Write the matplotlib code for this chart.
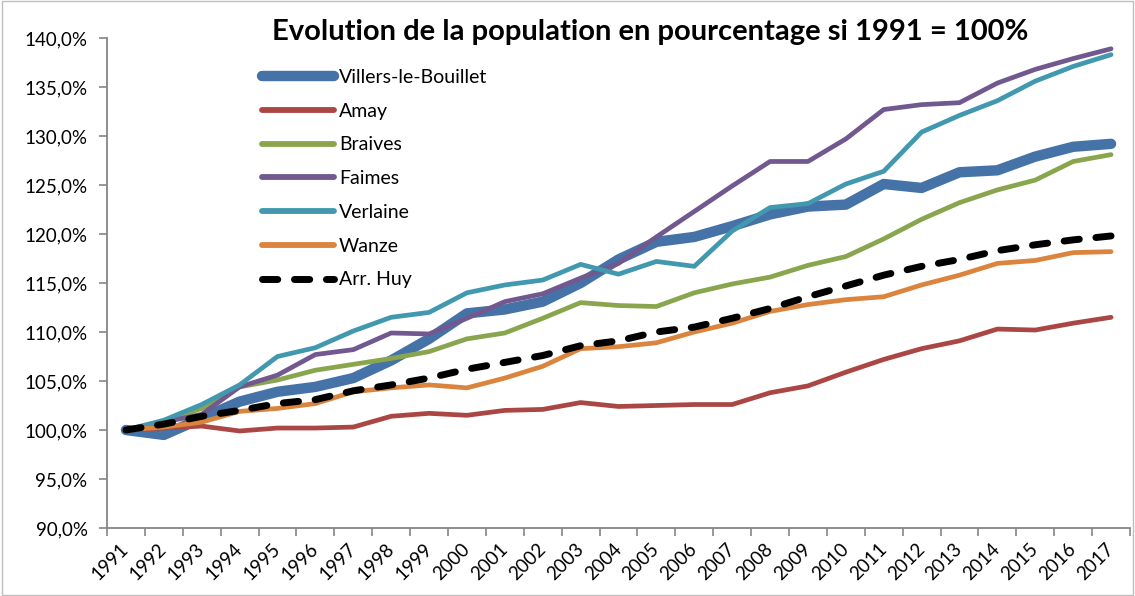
import matplotlib
matplotlib.use("Agg")
import matplotlib.pyplot as plt
from matplotlib.patches import Rectangle
from matplotlib.ticker import FixedLocator, FuncFormatter

# Population en % (base 1991 = 100)
years = list(range(1991, 2018))

villers = [100, 99.5, 101.2, 102.9, 103.9, 104.4, 105.3, 107.1, 109.3, 111.9, 112.3, 113.1, 115.0, 117.4,
           119.2, 119.7, 120.8, 122.0, 122.8, 123.0, 125.1, 124.7, 126.3, 126.5, 127.9, 128.9, 129.2]
amay = [100, 100.2, 100.4, 99.9, 100.2, 100.2, 100.3, 101.4, 101.7, 101.5, 102.0, 102.1, 102.8, 102.4,
        102.5, 102.6, 102.6, 103.8, 104.5, 105.9, 107.2, 108.3, 109.1, 110.3, 110.2, 110.9, 111.5]
braives = [100, 100.9, 102.2, 104.4, 105.1, 106.1, 106.7, 107.3, 108.0, 109.3, 109.9, 111.4, 113.0, 112.7,
           112.6, 114.0, 114.9, 115.6, 116.8, 117.7, 119.5, 121.5, 123.2, 124.5, 125.5, 127.4, 128.1]
faimes = [100, 100.8, 101.6, 104.4, 105.6, 107.7, 108.2, 109.9, 109.8, 111.4, 113.1, 113.9, 115.5, 117.0,
          119.7, 122.3, 124.9, 127.4, 127.4, 129.7, 132.7, 133.2, 133.4, 135.4, 136.8, 137.9, 138.9]
verlaine = [100, 101.0, 102.6, 104.6, 107.5, 108.4, 110.1, 111.5, 112.0, 114.0, 114.8, 115.3, 116.9, 115.9,
            117.2, 116.7, 120.3, 122.7, 123.1, 125.1, 126.4, 130.4, 132.1, 133.6, 135.6, 137.1, 138.3]
wanze = [100, 100.3, 100.8, 101.9, 102.2, 102.7, 103.9, 104.3, 104.6, 104.3, 105.3, 106.5, 108.3, 108.5,
         108.9, 110.0, 110.9, 112.1, 112.8, 113.3, 113.6, 114.8, 115.8, 117.0, 117.3, 118.1, 118.2]
arr_huy = [100, 100.6, 101.4, 102.0, 102.7, 103.1, 104.0, 104.6, 105.3, 106.2, 106.9, 107.6, 108.6, 109.1,
           110.0, 110.5, 111.4, 112.4, 113.6, 114.7, 115.8, 116.7, 117.4, 118.3, 118.9, 119.4, 119.8]

plt.rcParams['font.family'] = ['Lato', 'DejaVu Sans']

fig = plt.figure(figsize=(11.35, 5.96), dpi=100)
ax = fig.add_axes([107 / 1135, 1 - 528 / 596, (1130 - 107) / 1135, (528 - 38) / 596])

x = list(range(len(years)))
ax.plot(x, villers, color='#4572A7', lw=7.5, solid_capstyle='round', solid_joinstyle='round',
        label='Villers-le-Bouillet')
ax.plot(x, amay, color='#AA4643', lw=3.4, solid_capstyle='round', label='Amay')
ax.plot(x, braives, color='#89A54E', lw=3.4, solid_capstyle='round', label='Braives')
ax.plot(x, faimes, color='#71588F', lw=3.4, solid_capstyle='round', label='Faimes')
ax.plot(x, verlaine, color='#4198AF', lw=3.4, solid_capstyle='round', label='Verlaine')
ax.plot(x, wanze, color='#DB843D', lw=3.4, solid_capstyle='round', label='Wanze')
ax.plot(x, arr_huy, color='black', lw=5, dashes=(2.2, 2.4), dash_capstyle='round', label='Arr. Huy')

ax.set_xlim(-0.5, len(years) - 0.5)
ax.set_ylim(90, 140)

# ticks between categories, labels on the categories
ax.xaxis.set_major_locator(FixedLocator(x))
ax.xaxis.set_minor_locator(FixedLocator([i - 0.5 for i in range(len(years) + 1)]))
ax.set_xticklabels([str(y) for y in years], rotation=45, ha='right', va='center',
                   rotation_mode='anchor', fontsize=13.5)
ax.tick_params(axis='x', which='major', length=0, pad=13)
ax.tick_params(axis='x', which='minor', length=6, color='#868686', width=1.2, direction='out')

ax.yaxis.set_major_locator(FixedLocator(range(90, 141, 5)))
ax.yaxis.set_major_formatter(FuncFormatter(lambda v, p: f"{v:.1f}%".replace('.', ',')))
ax.tick_params(axis='y', length=6, color='#868686', width=1.2, labelsize=13.5, pad=8)

for side in ['top', 'right']:
    ax.spines[side].set_visible(False)
for side in ['left', 'bottom']:
    ax.spines[side].set_color('#868686')
    ax.spines[side].set_linewidth(1.3)

leg = ax.legend(loc='upper left', bbox_to_anchor=(262 / 1135, 1 - 69 / 596), bbox_transform=fig.transFigure,
                frameon=False, fontsize=14, handlelength=3.7, handletextpad=0.25, labelspacing=0.86,
                borderpad=0, borderaxespad=0)
for line in leg.get_lines()[1:6]:
    line.set_linewidth(4.2)

fig.text(650 / 1135, 1 - 32 / 596, "Evolution de la population en pourcentage si 1991 = 100%",
         ha='center', va='center', fontsize=21, fontweight='bold')

fig.patches.append(Rectangle((0.002, 0.002), 0.996, 0.996, transform=fig.transFigure,
                             fill=False, edgecolor='#BFBFBF', lw=1))

fig.savefig('out.png', dpi=100)
